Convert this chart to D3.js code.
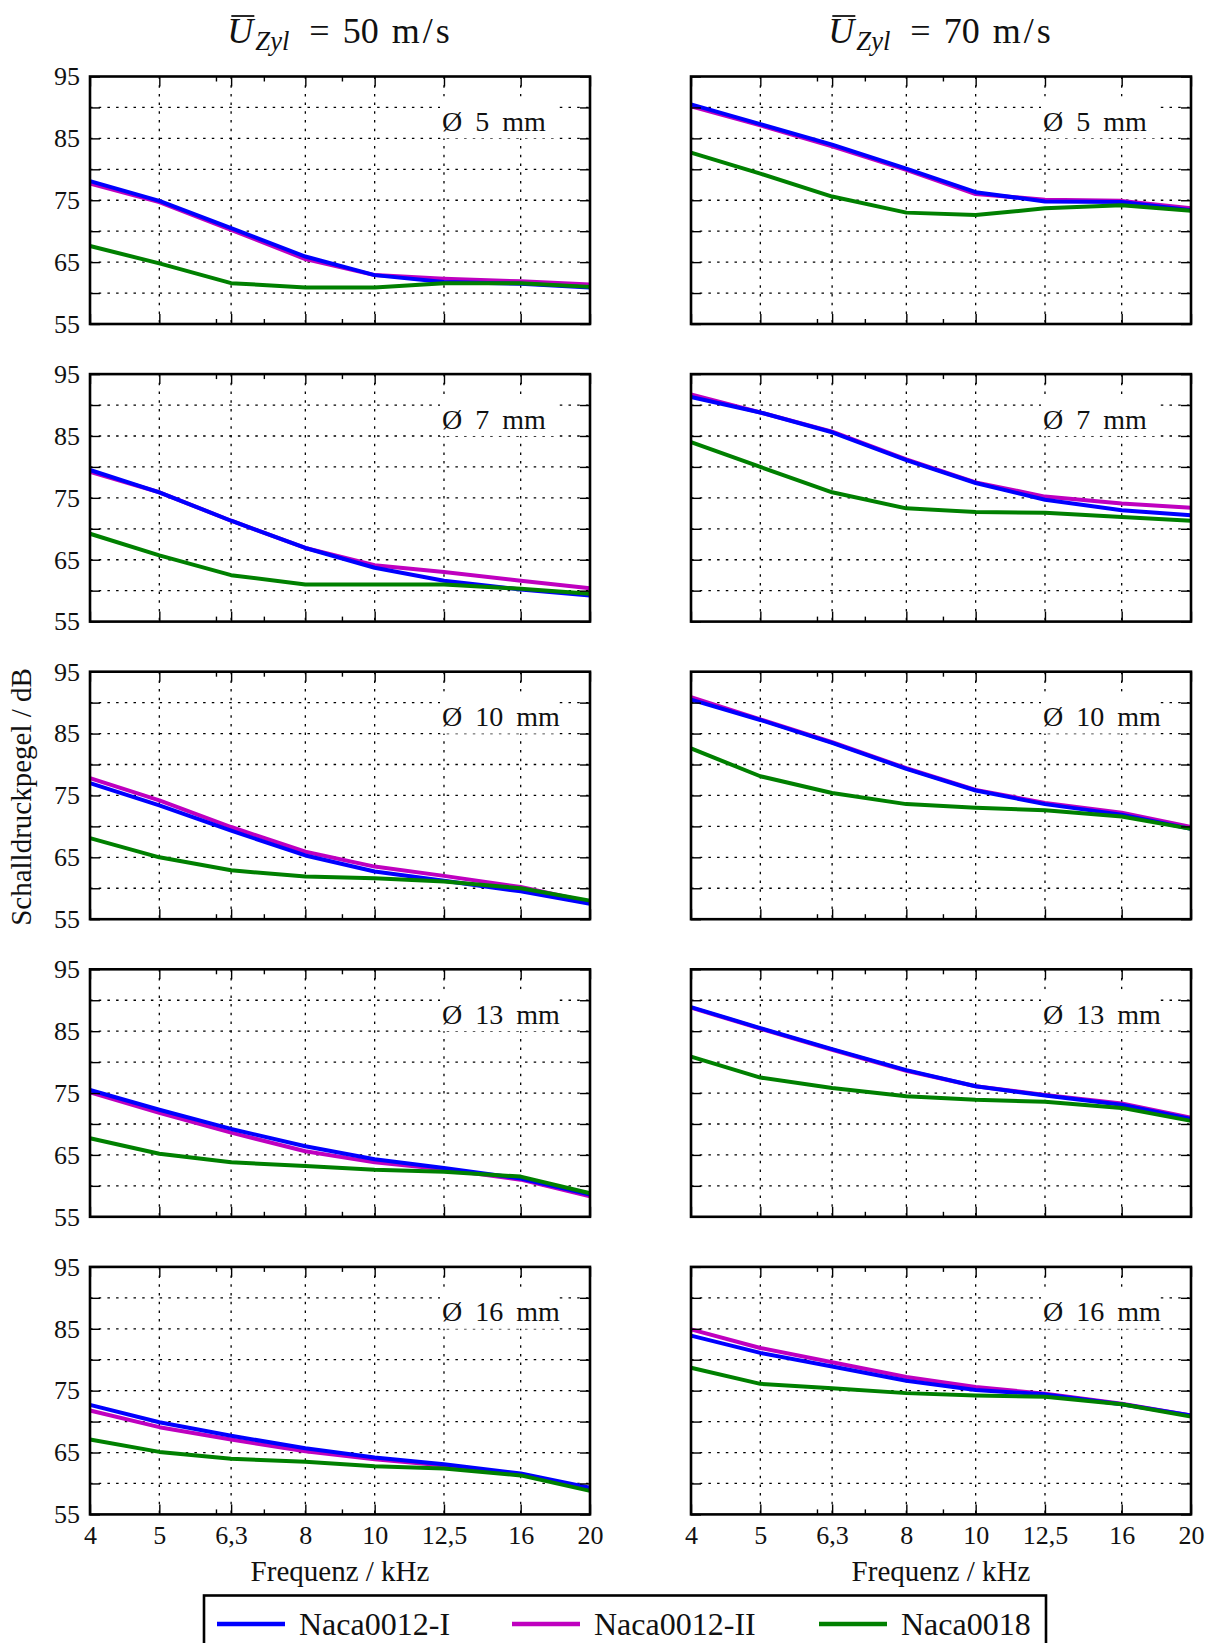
<!DOCTYPE html>
<html><head><meta charset="utf-8">
<script src="https://cdn.jsdelivr.net/npm/d3@7"></script>
<style>
html,body{margin:0;padding:0;background:#fff;}
svg{display:block;}
svg text{font-family:"Liberation Serif", "Times New Roman", serif;}
</style></head><body>
<svg id="chart" width="1216" height="1643"></svg>
<script>
// ---------------- data ----------------
const freqs = [4, 5, 6.3, 8, 10, 12.5, 16, 20];
const freqLabels = ["4", "5", "6,3", "8", "10", "12,5", "16", "20"];
const minorFreqs = [6, 7, 9];
const diameters = ["5", "7", "10", "13", "16"];
const speeds = ["50", "70"];
const yTicks = [55, 60, 65, 70, 75, 80, 85, 90, 95];
const yLabelTicks = [55, 65, 75, 85, 95];
const seriesNames = ["Naca0012-I", "Naca0012-II", "Naca0018"];
const seriesColors = ["#0000ff", "#bf00bf", "#008000"];

// 50 m/s, rows = diameters 5,7,10,13,16 mm
const naca0012I_50 = [
  [78.1, 74.9, 70.5, 65.9, 62.9, 61.8, 61.5, 60.9],
  [79.5, 75.9, 71.3, 66.9, 63.7, 61.6, 60.2, 59.2],
  [77.0, 73.4, 69.3, 65.3, 62.7, 61.2, 59.5, 57.5],
  [75.5, 72.3, 69.2, 66.4, 64.3, 62.9, 61.2, 58.6],
  [72.7, 69.9, 67.7, 65.7, 64.2, 63.1, 61.6, 59.3]
];
const naca0012II_50 = [
  [77.7, 74.7, 70.2, 65.5, 62.9, 62.3, 61.9, 61.4],
  [79.2, 75.9, 71.3, 66.9, 64.1, 63.0, 61.6, 60.4],
  [77.8, 74.2, 69.9, 65.9, 63.5, 62.0, 60.2, 57.8],
  [75.1, 71.8, 68.6, 65.6, 63.8, 62.7, 61.0, 58.3],
  [71.8, 69.1, 67.1, 65.2, 63.9, 62.9, 61.5, 59.1]
];
const naca0018_50 = [
  [67.6, 64.8, 61.6, 60.9, 60.9, 61.6, 61.6, 61.0],
  [69.2, 65.7, 62.5, 61.0, 61.0, 61.0, 60.3, 59.5],
  [68.1, 65.0, 62.9, 61.9, 61.6, 61.1, 60.0, 58.0],
  [67.7, 65.2, 63.8, 63.2, 62.6, 62.3, 61.5, 58.8],
  [67.1, 65.1, 64.0, 63.5, 62.8, 62.4, 61.3, 58.8]
];
// 70 m/s
const naca0012I_70 = [
  [90.5, 87.3, 84.0, 80.1, 76.3, 74.8, 74.7, 73.4],
  [91.3, 88.8, 85.6, 81.1, 77.4, 74.7, 73.0, 72.2],
  [90.5, 87.2, 83.5, 79.3, 75.8, 73.6, 71.9, 69.6],
  [88.9, 85.5, 82.1, 78.7, 76.1, 74.6, 73.1, 70.8],
  [83.9, 81.1, 78.9, 76.6, 75.1, 74.4, 72.8, 71.0]
];
const naca0012II_70 = [
  [90.2, 87.1, 83.7, 79.9, 76.0, 75.1, 74.9, 73.7],
  [91.7, 88.8, 85.7, 81.2, 77.5, 75.2, 74.1, 73.4],
  [90.9, 87.3, 83.6, 79.4, 75.9, 73.8, 72.2, 69.9],
  [88.8, 85.4, 82.0, 78.6, 76.1, 74.7, 73.3, 71.0],
  [84.9, 81.9, 79.6, 77.2, 75.6, 74.5, 72.9, 71.0]
];
const naca0018_70 = [
  [82.7, 79.3, 75.6, 73.0, 72.6, 73.7, 74.2, 73.3],
  [84.0, 80.0, 75.9, 73.3, 72.7, 72.6, 71.9, 71.3],
  [82.6, 78.1, 75.4, 73.6, 73.0, 72.6, 71.6, 69.6],
  [80.9, 77.5, 75.8, 74.5, 73.9, 73.6, 72.6, 70.5],
  [78.7, 76.1, 75.4, 74.6, 74.2, 74.0, 72.8, 70.8]
];
const dataBySpeed = [
  [naca0012I_50, naca0012II_50, naca0018_50],
  [naca0012I_70, naca0012II_70, naca0018_70]
];
const drawOrder = [1, 0, 2];

// ---------------- layout ----------------
const FONT = "'Liberation Serif', 'Times New Roman', serif";
const colX = [90, 691];
const rowY0 = 76.5, rowStep = 297.6;
const panelW = 500, panelH = 247.5;
const tickFont = 26, labelFont = 29, titleFont = 36, annFont = 28, legendFont = 32;

const svg = d3.select("#chart");
const x = d3.scaleLog().domain([4, 20]).range([0, panelW]);
const y = d3.scaleLinear().domain([55, 95]).range([panelH, 0]);
const line = d3.line().x((d, i) => x(freqs[i])).y(d => y(d));

speeds.forEach((sp, c) => {
  diameters.forEach((dia, r) => {
    const g = svg.append("g").attr("transform", `translate(${colX[c]},${rowY0 + r * rowStep})`);
    // grid
    const grid = g.append("g").attr("stroke", "#000").attr("stroke-width", 1.3).attr("stroke-dasharray", "2.5,6.2");
    grid.selectAll(".hg").data(yTicks.filter(v => v > 55 && v < 95)).join("line")
      .attr("x1", 0).attr("x2", panelW).attr("y1", d => y(d)).attr("y2", d => y(d));
    grid.selectAll(".vg").data(freqs.filter(v => v > 4 && v < 20)).join("line")
      .attr("y1", 0).attr("y2", panelH).attr("x1", d => x(d)).attr("x2", d => x(d));

    // annotation box + text
    const ann = g.append("g");
    ann.append("rect").attr("x", 350).attr("y", 20).attr("width", 118).attr("height", y(85) - 20).attr("fill", "#fff");
    ann.append("text").attr("x", 352).attr("y", 54.5).attr("font-size", annFont)
      .attr("word-spacing", 6).attr("fill", "#111").text(`Ø ${dia} mm`);

    // data lines
    drawOrder.forEach(s => {
      g.append("path").datum(dataBySpeed[c][s][r])
        .attr("fill", "none").attr("stroke", seriesColors[s]).attr("stroke-width", 4)
        .attr("stroke-linejoin", "round").attr("d", line);
    });

    // axes
    const styleAxis = sel => {
      sel.attr("font-family", null).attr("font-size", null);
      sel.select(".domain").remove();
      sel.selectAll(".tick line").attr("stroke", "#000").attr("stroke-width", 1.4);
      sel.selectAll(".tick text").attr("font-size", tickFont).attr("fill", "#111");
    };
    g.append("g").call(d3.axisLeft(y).tickValues(yTicks).tickSize(-10).tickPadding(10)
      .tickFormat(v => (c === 0 && yLabelTicks.includes(v)) ? String(v) : "")).call(styleAxis);
    g.append("g").attr("transform", `translate(${panelW},0)`)
      .call(d3.axisRight(y).tickValues(yTicks).tickSize(-10).tickFormat("")).call(styleAxis);
    g.append("g").call(d3.axisTop(x).tickValues(freqs).tickSize(-10).tickFormat("")).call(styleAxis);
    g.append("g").call(d3.axisTop(x).tickValues(minorFreqs).tickSize(-5).tickFormat("")).call(styleAxis);
    g.append("g").attr("transform", `translate(0,${panelH})`)
      .call(d3.axisBottom(x).tickValues(freqs).tickSize(-10).tickPadding(11)
        .tickFormat((v, i) => r === diameters.length - 1 ? freqLabels[i] : "")).call(styleAxis);
    g.append("g").attr("transform", `translate(0,${panelH})`)
      .call(d3.axisBottom(x).tickValues(minorFreqs).tickSize(-5).tickFormat("")).call(styleAxis);

    // frame
    g.append("rect").attr("width", panelW).attr("height", panelH)
      .attr("fill", "none").attr("stroke", "#000").attr("stroke-width", 2.6);

    if (r === diameters.length - 1) {
      g.append("text").attr("x", panelW / 2).attr("y", panelH + 67).attr("text-anchor", "middle")
        .attr("font-size", labelFont).attr("fill", "#111").text("Frequenz / kHz");
    }
  });

  // column title
  const tg = svg.append("g");
  const t = tg.append("text").attr("x", 0).attr("y", 0).attr("font-size", titleFont).attr("fill", "#111")
    .style("font-family", FONT);
  t.append("tspan").attr("font-style", "italic").text("U");
  t.append("tspan").attr("font-style", "italic").attr("font-size", titleFont * 0.74).attr("dy", 7).attr("dx", 2).text("Zyl");
  t.append("tspan").attr("dy", -7).attr("dx", 20).text("=");
  t.append("tspan").attr("dx", 13).text(sp);
  t.append("tspan").attr("dx", 13).attr("letter-spacing", 3).text("m/s");
  const bb = t.node().getBBox();
  const ext = t.node().getExtentOfChar(0);
  tg.append("line").attr("x1", ext.x + 4).attr("x2", ext.x + ext.width + 1)
    .attr("y1", ext.y + 5).attr("y2", ext.y + 5).attr("stroke", "#111").attr("stroke-width", 1.8);
  tg.attr("transform", `translate(${colX[c] + panelW / 2 - (bb.x + bb.width / 2)},43)`);
});

// y-axis label
svg.append("text").attr("transform", `translate(31,797) rotate(-90)`).attr("text-anchor", "middle")
  .attr("font-size", labelFont).attr("fill", "#111").text("Schalldruckpegel / dB");

// legend
const lg = svg.append("g");
lg.append("rect").attr("x", 204).attr("y", 1595.5).attr("width", 842).attr("height", 90)
  .attr("fill", "#fff").attr("stroke", "#000").attr("stroke-width", 2.6);
const legX = [217, 512, 819];
seriesNames.forEach((n, i) => {
  lg.append("line").attr("x1", legX[i]).attr("x2", legX[i] + 68).attr("y1", 1624).attr("y2", 1624)
    .attr("stroke", seriesColors[i]).attr("stroke-width", 4.5);
  lg.append("text").attr("x", legX[i] + 82).attr("y", 1635).attr("font-size", legendFont)
    .attr("fill", "#111").text(n);
});

svg.selectAll("text").style("font-family", FONT);
</script>
</body></html>
